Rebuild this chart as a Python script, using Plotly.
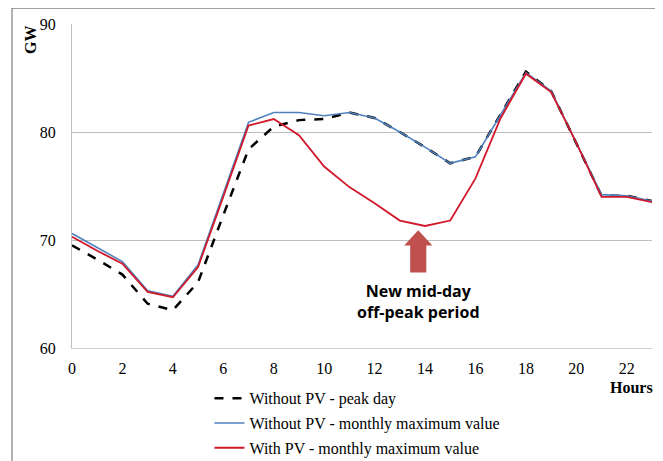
import plotly.graph_objects as go

hours = list(range(24))
without_pv_peak_day = [69.5, 68.2, 66.8, 64.1, 63.5, 66.1, 72.3, 78.4, 80.5, 81.1, 81.2, 81.8,
                       81.3, 80.0, 78.6, 77.1, 77.7, 81.6, 85.6, 83.8, 79.0, 74.1, 74.1, 73.6]
without_pv_monthly_max = [70.6, 69.3, 68.0, 65.3, 64.8, 67.7, 74.3, 80.9, 81.8, 81.8, 81.5, 81.8,
                          81.3, 80.0, 78.6, 77.1, 77.7, 81.6, 85.5, 83.8, 79.0, 74.2, 74.1, 73.6]
with_pv_monthly_max = [70.3, 69.0, 67.8, 65.2, 64.7, 67.5, 74.0, 80.6, 81.2, 79.7, 76.8, 74.9,
                       73.4, 71.8, 71.3, 71.8, 75.7, 81.3, 85.4, 83.7, 79.0, 74.0, 74.0, 73.5]
x_tick_vals = list(range(0, 24, 2))
y_tick_vals = [60, 70, 80, 90]

serif = "Times New Roman, Liberation Serif, serif"

fig = go.Figure()
fig.add_trace(go.Scatter(x=hours, y=without_pv_peak_day, mode="lines",
                         name="Without PV - peak day", legendgroup="a",
                         line=dict(color="black", width=2.5, dash="dash")))
fig.add_trace(go.Scatter(x=hours, y=without_pv_monthly_max, mode="lines",
                         name="Without PV - monthly maximum value", legendgroup="b",
                         line=dict(color="#4F81BD", width=1.6)))
fig.add_trace(go.Scatter(x=hours, y=with_pv_monthly_max, mode="lines",
                         name="With PV - monthly maximum value", legendgroup="c",
                         line=dict(color="#D0182A", width=1.8)))

# arrow (annotation graphic)
ax = 13.73
fig.add_shape(type="path", xref="x", yref="y",
              path=f"M {ax} 70.9 L {ax+0.56} 69.5 L {ax+0.32} 69.5 L {ax+0.32} 67.0 "
                   f"L {ax-0.32} 67.0 L {ax-0.32} 69.5 L {ax-0.56} 69.5 Z",
              fillcolor="#C0504D", line=dict(width=0))
fig.add_annotation(x=ax, y=64.35, xref="x", yref="y", showarrow=False,
                   text="<b>New mid-day<br>off-peak period</b>",
                   font=dict(family="Open Sans", size=16, color="black"))

# outer frame (top and left edges visible)
fig.add_shape(type="line", xref="paper", yref="paper", x0=-0.1034, x1=1.03, y0=1.049, y1=1.049,
              line=dict(color="#808080", width=1.2))
fig.add_shape(type="line", xref="paper", yref="paper", x0=-0.1034, x1=-0.1034, y0=1.049, y1=-0.5,
              line=dict(color="#808080", width=1.2))

fig.add_annotation(x=-0.0724, y=1.0, xref="paper", yref="paper", showarrow=False,
                   text="<b>GW</b>", textangle=-90, xanchor="center", yanchor="top",
                   font=dict(family=serif, size=16, color="black"))
fig.add_annotation(x=1.005, y=-0.122, xref="paper", yref="paper", showarrow=False,
                   text="<b>Hours</b>", xanchor="right", yanchor="middle",
                   font=dict(family=serif, size=16, color="black"))

fig.update_layout(
    width=655, height=453,
    margin=dict(l=64, r=11, t=16, b=113, autoexpand=False),
    paper_bgcolor="white", plot_bgcolor="white",
    showlegend=True,
    legend=dict(x=0.237, y=0.176, xref="paper", yref="container", xanchor="left", yanchor="top",
                font=dict(family=serif, size=16, color="black"),
                tracegroupgap=1, itemwidth=30, bgcolor="rgba(0,0,0,0)"),
    xaxis=dict(range=[0, 23], tickvals=x_tick_vals, showgrid=False, zeroline=False,
               showline=True, linecolor="#D0D0D0", linewidth=1, ticks="",
               ticklabelstandoff=6,
               tickfont=dict(family=serif, size=16, color="black")),
    yaxis=dict(range=[60, 90], tickvals=y_tick_vals, showgrid=True, gridcolor="#BFBFBF",
               gridwidth=1, zeroline=False, showline=True, linecolor="#BFBFBF", ticks="",
               ticklabelstandoff=12,
               tickfont=dict(family=serif, size=16, color="black")),
)

fig.write_html("out.html")
